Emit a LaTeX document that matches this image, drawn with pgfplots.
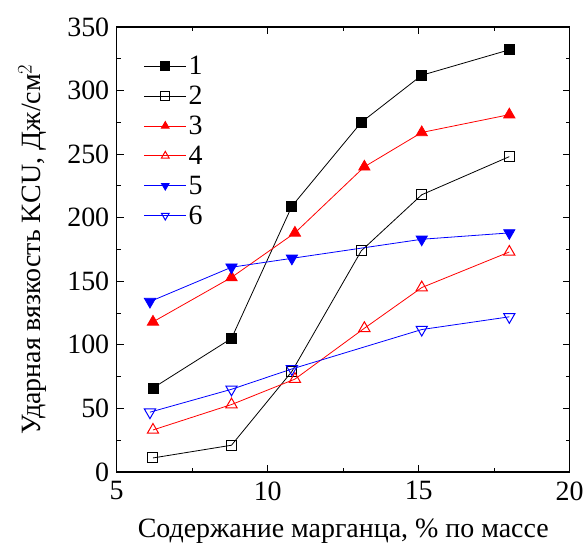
\documentclass[border=0pt]{standalone}
\usepackage{fontspec}
\setmainfont{Liberation Serif}
\usepackage{pgfplots}
\pgfplotsset{compat=1.18}

\begin{document}
\begin{tikzpicture}[font=\rmfamily\fontsize{28}{31}\selectfont]
\begin{axis}[
    scale only axis,
    width=454pt, height=446pt,
    xmin=5, xmax=20, ymin=0, ymax=350,
    xtick={5,10,15,20}, ytick={0,50,...,350},
    xticklabels={5,10,15,20},
    yticklabels={0,50,100,150,200,250,300,350},
    minor x tick num=1, minor y tick num=1,
    tick align=inside,
    major tick length=7pt, minor tick length=4pt,
    tick style={line width=1pt, black},
    axis line style={line width=1.5pt},
    ticklabel style={font=\rmfamily\fontsize{28}{31}\selectfont},
    yticklabel style={xshift=-4pt},
    xticklabel style={yshift=-6pt},
    label style={font=\rmfamily\fontsize{28}{31}\selectfont},
    xlabel={Содержание марганца, \% по массе},
    ylabel={Ударная вязкость KCU, Дж/см$^2$},
    xlabel style={yshift=-12pt},
    ylabel style={yshift=14pt},
    legend style={draw=none, fill=none, at={(0.053,0.944)}, anchor=north west,
        font=\rmfamily\fontsize{28}{31}\selectfont, row sep=6pt},
    legend cell align=left,
    legend image code/.code={
        \draw[mark repeat=2, mark phase=2, #1, mark size=4.5pt]
            plot coordinates {(0pt,0pt) (21pt,0pt) (42pt,0pt)};
    },
    every axis plot/.append style={line width=0.8pt},
]
\addplot[black, mark=square*, mark size=5pt] coordinates {
 (6.2,66) (8.8,105) (10.8,209) (13.1,275) (15.1,312) (18.0,332)};
\addplot[black, mark=square, mark size=5pt, mark options={fill=white, line width=1pt}] coordinates {
 (6.2,11) (8.8,21) (10.8,79) (13.1,174) (15.1,218) (18.0,248)};
\addplot[red, mark=triangle*, mark size=6.5pt] coordinates {
 (6.2,118) (8.8,153) (10.9,188) (13.2,240) (15.1,267) (18.0,281)};
\addplot[red, mark=triangle, mark size=6.5pt, mark options={fill=white, line width=1pt}] coordinates {
 (6.2,33) (8.8,53) (10.9,73) (13.2,113) (15.1,145) (18.0,173)};
\addplot[blue, mark=triangle*, mark size=6.5pt, mark options={rotate=180}] coordinates {
 (6.1,134) (8.8,161) (10.8,168) (15.1,183) (18.0,188)};
\addplot[blue, mark=triangle, mark size=6.5pt, mark options={rotate=180, fill=white, line width=1pt}] coordinates {
 (6.1,47) (8.8,65) (10.8,81) (15.1,112) (18.0,122)};
\legend{1,2,3,4,5,6}
\coordinate (ll) at (rel axis cs:0,0);
\coordinate (ur) at (rel axis cs:1,1);
\end{axis}
\path ([shift={(-117pt,-70pt)}]ll) rectangle ([shift={(16pt,27pt)}]ur);
\end{tikzpicture}
\end{document}
